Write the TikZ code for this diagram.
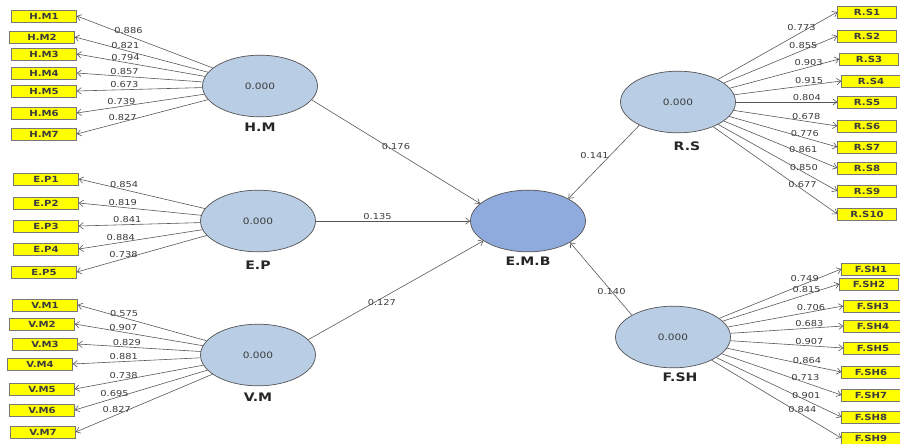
\documentclass[tikz,border=0pt]{standalone}
\usepackage{fontspec}
\setmainfont{DejaVu Sans}
\newfontfamily\widefont[FakeStretch=1.2]{DejaVu Sans}
\usetikzlibrary{shapes,arrows.meta,positioning}
\definecolor{latentblue}{HTML}{B9CDE5}
\definecolor{targetblue}{HTML}{8FAADC}
\definecolor{linegray}{HTML}{555555}
\definecolor{boxyellow}{HTML}{FFFF00}
\definecolor{textgray}{HTML}{3C3C3C}

\begin{document}
\begin{tikzpicture}[x=0.03cm, y=-0.03cm, >={Straight Barb[length=3.5pt,width=5.5pt]},
    latent/.style={ellipse, draw=linegray, line width=0.6pt, fill=latentblue, minimum width=3.45cm, minimum height=1.85cm, inner sep=0pt, font=\widefont\fontsize{7.5}{8}\selectfont, text=textgray},
    ind/.style={rectangle, draw=linegray!80, fill=boxyellow, minimum width=1.95cm, minimum height=0.36cm, inner sep=0pt, font=\widefont\bfseries\fontsize{7.2}{8}\selectfont, text=textgray},
    indr/.style={ind, minimum width=1.77cm},
    title/.style={inner sep=0pt, font=\widefont\bfseries\fontsize{10}{11}\selectfont, text=black!85},
    link/.style={draw=linegray, line width=0.5pt, ->},
    load/.style={inner sep=1.2pt, font=\widefont\fontsize{7}{8}\selectfont, text=textgray}]
    \useasboundingbox (0,0) rectangle (900,443);

    % Nodes
    \node (hm) [latent] at (260,86) {0.000};
    \node (ep) [latent] at (258,221) {0.000};
    \node (vm) [latent] at (258,355) {0.000};
    \node (emb) [latent, fill=targetblue] at (528,221) {};
    \node (rs) [latent] at (678,102) {0.000};
    \node (fsh) [latent] at (673,337) {0.000};

    \node (hmname) [title, below=0.17cm of hm] {H.M};
    \node (epname) [title, below=0.26cm of ep] {E.P};
    \node (vmname) [title, below=0.2cm of vm] {V.M};
    \node (embname) [title, below=0.14cm of emb] {E.M.B};
    \node (rsname) [title, below=0.26cm of rs, xshift=0.27cm] {R.S};
    \node (fshname) [title, below=0.14cm of fsh, xshift=0.21cm] {F.SH};

    \node (hm1) [ind] at (44,16) {H.M1};
    \node (hm2) [ind] at (42,37) {H.M2};
    \node (hm3) [ind] at (44,54) {H.M3};
    \node (hm4) [ind] at (44,73) {H.M4};
    \node (hm5) [ind] at (44,91) {H.M5};
    \node (hm6) [ind] at (44,113) {H.M6};
    \node (hm7) [ind] at (44,134) {H.M7};

    \node (ep1) [ind] at (46,179) {E.P1};
    \node (ep2) [ind] at (46,203) {E.P2};
    \node (ep3) [ind] at (46,226) {E.P3};
    \node (ep4) [ind] at (46,249) {E.P4};
    \node (ep5) [ind] at (44,272) {E.P5};

    \node (vm1) [ind] at (45,305) {V.M1};
    \node (vm2) [ind] at (42,324) {V.M2};
    \node (vm3) [ind] at (45,344) {V.M3};
    \node (vm4) [ind] at (40,364) {V.M4};
    \node (vm5) [ind] at (42,389) {V.M5};
    \node (vm6) [ind] at (42,410) {V.M6};
    \node (vm7) [ind] at (43,432) {V.M7};

    \node (rs1) [indr] at (867,12) {R.S1};
    \node (rs2) [indr] at (867,36) {R.S2};
    \node (rs3) [indr] at (869,59) {R.S3};
    \node (rs4) [indr] at (871,81) {R.S4};
    \node (rs5) [indr] at (867,102) {R.S5};
    \node (rs6) [indr] at (867,126) {R.S6};
    \node (rs7) [indr] at (867,147) {R.S7};
    \node (rs8) [indr] at (867,168) {R.S8};
    \node (rs9) [indr] at (867,191) {R.S9};
    \node (rs10) [indr] at (867,214) {R.S10};

    \node (fsh1) [indr] at (871,269) {F.SH1};
    \node (fsh2) [indr] at (869,284) {F.SH2};
    \node (fsh3) [indr] at (873,306) {F.SH3};
    \node (fsh4) [indr] at (873,326) {F.SH4};
    \node (fsh5) [indr] at (873,348) {F.SH5};
    \node (fsh6) [indr] at (871,372) {F.SH6};
    \node (fsh7) [indr] at (871,395) {F.SH7};
    \node (fsh8) [indr] at (871,417) {F.SH8};
    \node (fsh9) [indr] at (871,438) {F.SH9};

    % Edges (inner model)
    \draw[link] (hm.345) -- (emb.160) node[load, midway, above] {0.176};
    \draw[link] (ep) -- (emb) node[load, pos=0.4, above] {0.135};
    \draw[link] (vm.17) -- (emb.204) node[load, pos=0.42, below] {0.127};
    \draw[link] (rs.211) -- (emb.29) node[load, pos=0.41, left] {0.141};
    \draw[link] (fsh.152) -- (emb.333) node[load, pos=0.33] {0.140};

    % Edges (outer model)
    \draw[link] (hm) -- (hm1.east) node[load, pos=0.62, above] {0.886};
    \draw[link] (hm) -- (hm2.east) node[load, pos=0.62, above] {0.821};
    \draw[link] (hm) -- (hm3.east) node[load, pos=0.62, above] {0.794};
    \draw[link] (hm) -- (hm4.east) node[load, pos=0.62, above] {0.857};
    \draw[link] (hm) -- (hm5.east) node[load, pos=0.62, above] {0.673};
    \draw[link] (hm) -- (hm6.east) node[load, pos=0.65, above] {0.739};
    \draw[link] (hm) -- (hm7.east) node[load, pos=0.65, above] {0.827};

    \draw[link] (ep) -- (ep1.east) node[load, pos=0.64, above] {0.854};
    \draw[link] (ep) -- (ep2.east) node[load, pos=0.64, above] {0.819};
    \draw[link] (ep) -- (ep3.east) node[load, pos=0.6, above] {0.841};
    \draw[link] (ep) -- (ep4.east) node[load, pos=0.66, above] {0.884};
    \draw[link] (ep) -- (ep5.east) node[load, pos=0.64, above] {0.738};

    \draw[link] (vm) -- (vm1.east) node[load, pos=0.64, above] {0.575};
    \draw[link] (vm) -- (vm2.east) node[load, pos=0.62, above] {0.907};
    \draw[link] (vm) -- (vm3.east) node[load, pos=0.6, above] {0.829};
    \draw[link] (vm) -- (vm4.east) node[load, pos=0.6, above] {0.881};
    \draw[link] (vm) -- (vm5.east) node[load, pos=0.62, above] {0.738};
    \draw[link] (vm) -- (vm6.east) node[load, pos=0.7, above] {0.695};
    \draw[link] (vm) -- (vm7.east) node[load, pos=0.7, above] {0.827};

    \draw[link] (rs) -- (rs1.west) node[load, pos=0.7, above] {0.773};
    \draw[link] (rs) -- (rs2.west) node[load, pos=0.7, above] {0.855};
    \draw[link] (rs) -- (rs3.west) node[load, pos=0.72, above] {0.903};
    \draw[link] (rs) -- (rs4.west) node[load, pos=0.7, above] {0.915};
    \draw[link] (rs) -- (rs5.west) node[load, pos=0.7, above] {0.804};
    \draw[link] (rs) -- (rs6.west) node[load, pos=0.7, above] {0.678};
    \draw[link] (rs) -- (rs7.west) node[load, pos=0.7, above] {0.776};
    \draw[link] (rs) -- (rs8.west) node[load, pos=0.7, above] {0.861};
    \draw[link] (rs) -- (rs9.west) node[load, pos=0.72, above] {0.850};
    \draw[link] (rs) -- (rs10.west) node[load, pos=0.72, above] {0.677};

    \draw[link] (fsh) -- (fsh1.west) node[load, pos=0.7, above] {0.749};
    \draw[link] (fsh) -- (fsh2.west) node[load, pos=0.72, above] {0.815};
    \draw[link] (fsh) -- (fsh3.west) node[load, pos=0.72, above] {0.706};
    \draw[link] (fsh) -- (fsh4.west) node[load, pos=0.7, above] {0.683};
    \draw[link] (fsh) -- (fsh5.west) node[load, pos=0.7, above] {0.907};
    \draw[link] (fsh) -- (fsh6.west) node[load, pos=0.7, above] {0.864};
    \draw[link] (fsh) -- (fsh7.west) node[load, pos=0.7, above] {0.713};
    \draw[link] (fsh) -- (fsh8.west) node[load, pos=0.72, above] {0.901};
    \draw[link] (fsh) -- (fsh9.west) node[load, pos=0.7, above] {0.844};
  \end{tikzpicture}
\end{document}
